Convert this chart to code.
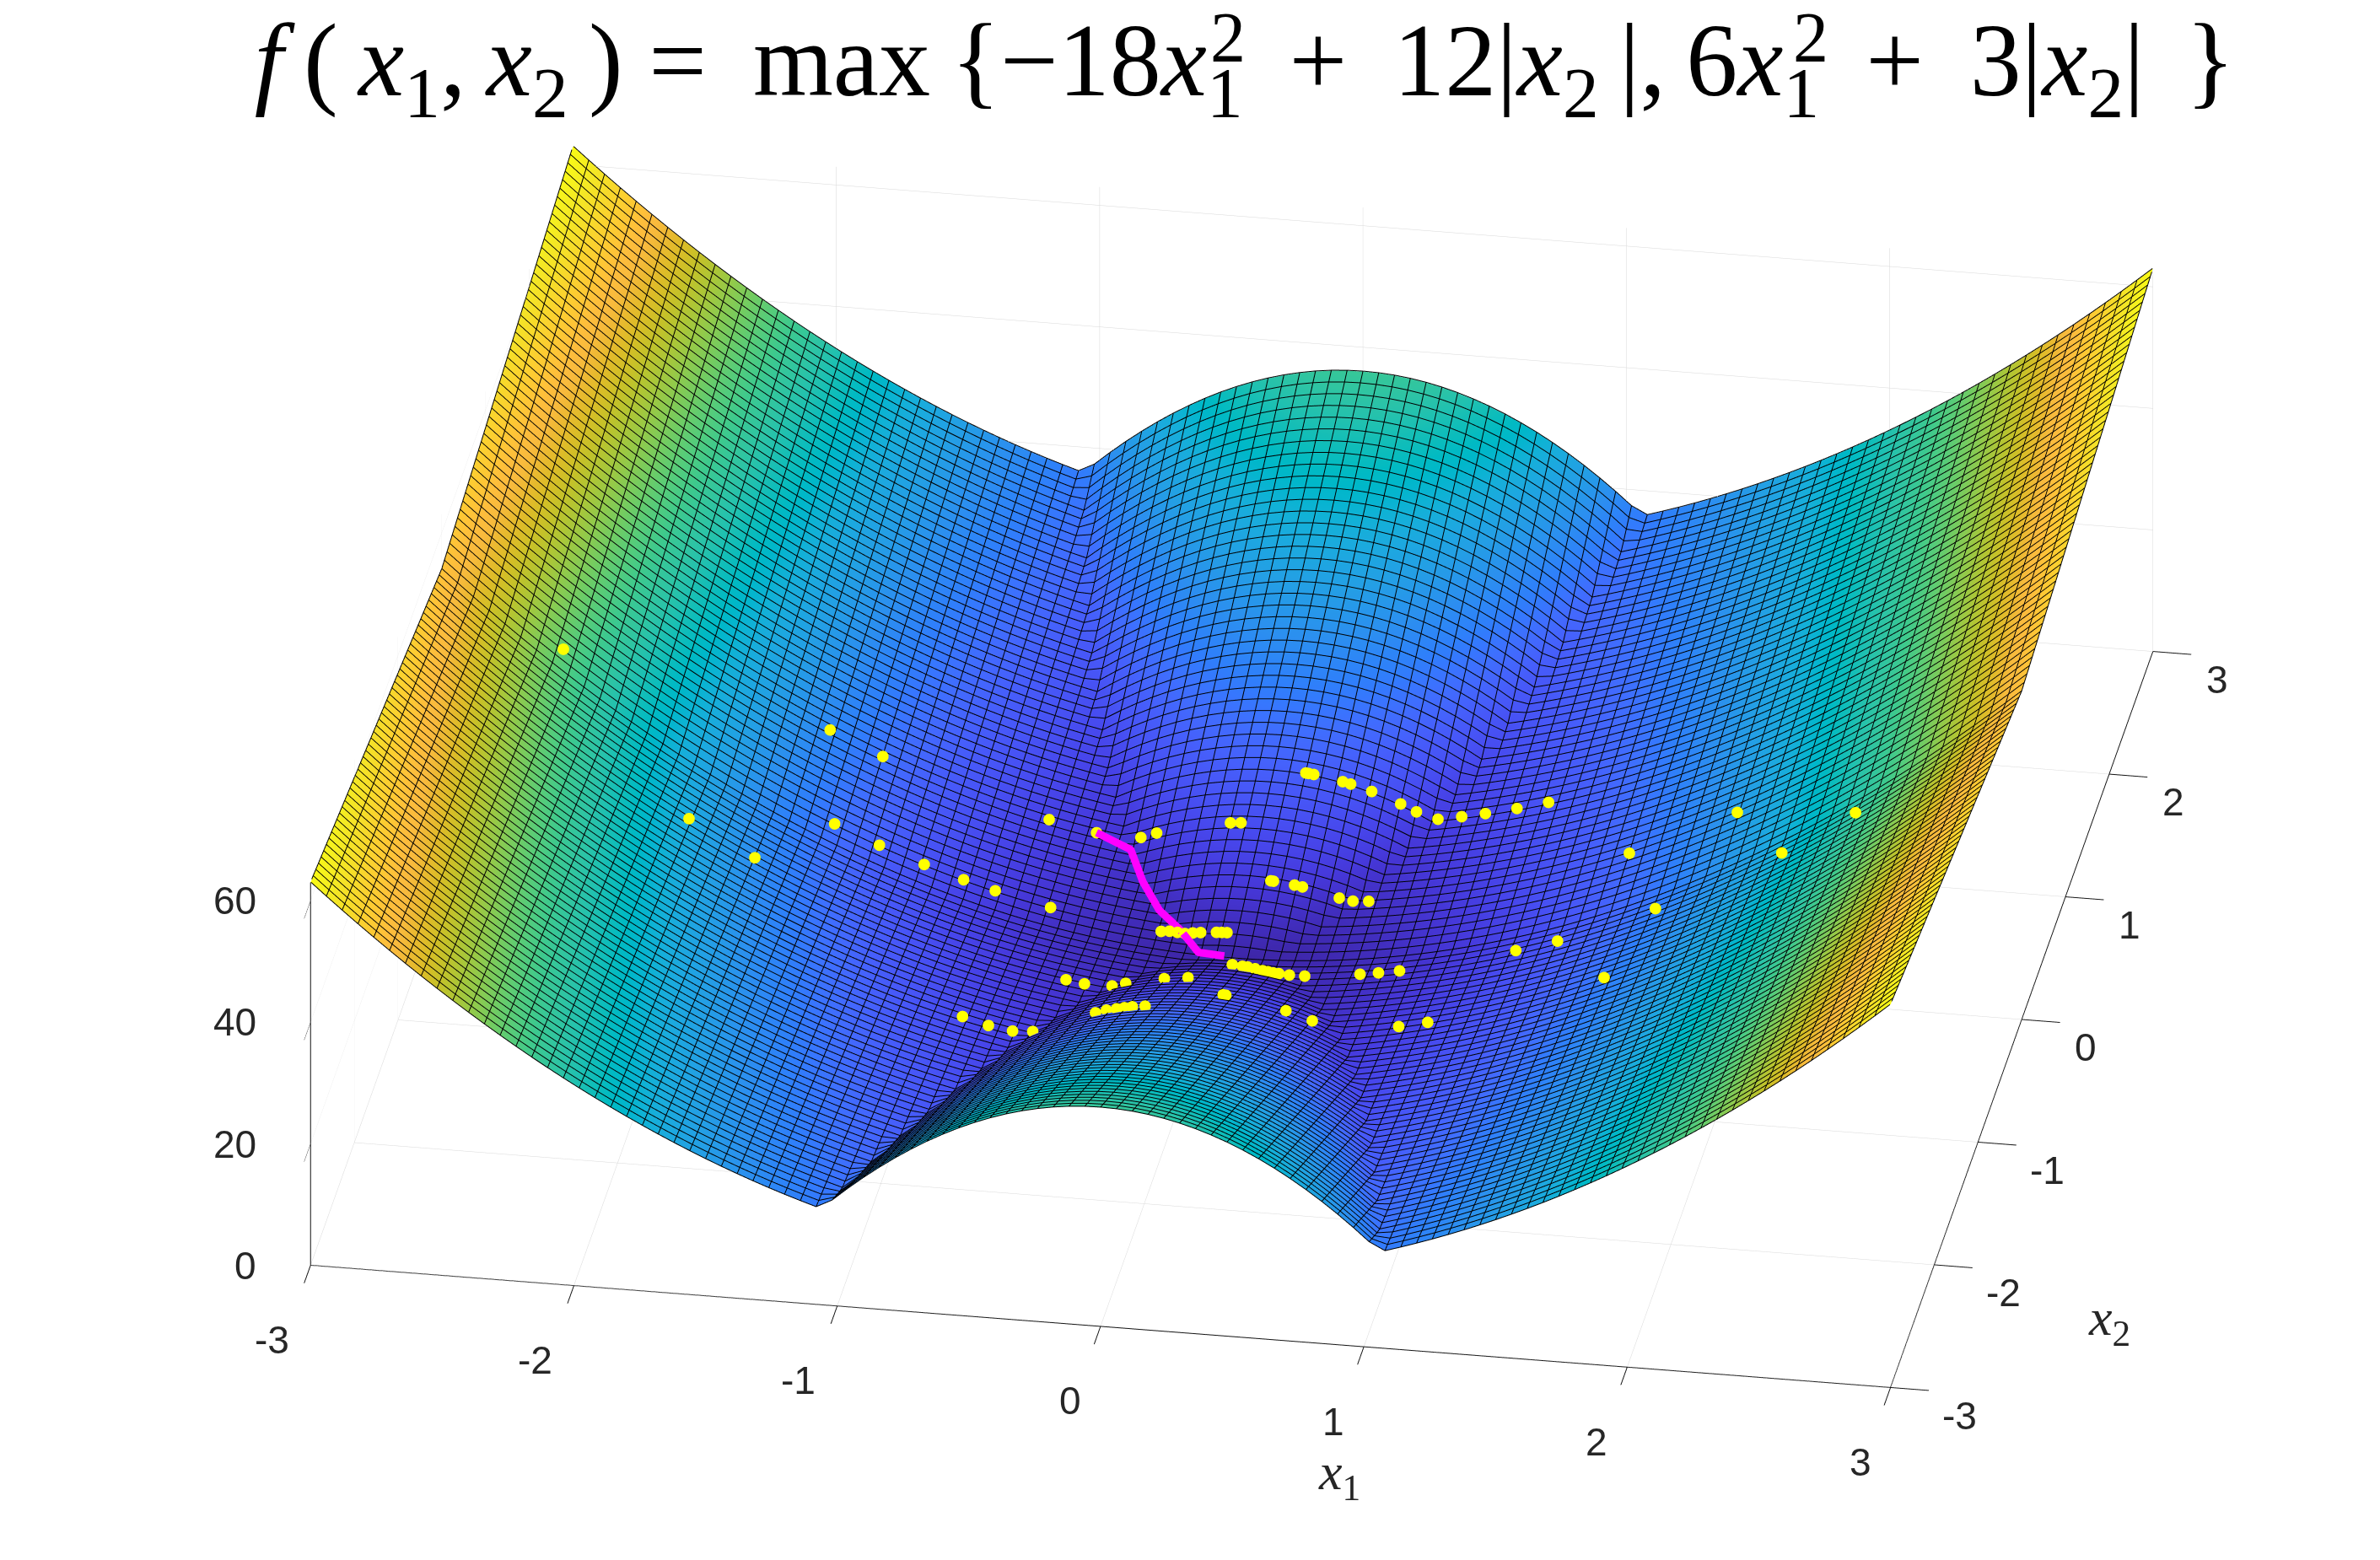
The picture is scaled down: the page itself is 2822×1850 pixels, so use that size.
import numpy as np, plotly.graph_objects as go
x1_grid=np.linspace(-3,3,101)
x2_grid=np.linspace(-3,3,101)
tick_x=[-3,-2,-1,0,1,2,3]
tick_z=[0,20,40,60]
marker_x1=[-2.56,-1.64,-1.44,-1.99,-1.53,-1.74,-1.36,-1.19,-1.04,-0.92,-0.71,-0.81,-0.63,-0.46,-0.40,-0.29,-0.26,-0.23,-0.56,-0.49,-0.39,-0.34,-0.19,-0.36,-0.32,-0.28,-0.25,-0.22,-0.17,-0.86,-0.76,-0.67,-0.60,0.12,0.13,0.15,0.26,0.29,0.37,0.48,0.54,0.62,0.71,0.80,0.92,1.04,1.85,2.39,1.44,2.11,-0.12,-0.08,0.08,0.09,0.17,0.20,0.34,0.39,0.45,1.63,1.26,1.10,1.53,-0.20,-0.17,-0.14,-0.08,-0.06,-0.04,0.02,0.06,0.08,0.11,0.14,0.16,0.18,0.20,0.24,0.30,0.51,0.58,0.66,-0.10,0.08,0.09,0.32,0.42,0.75,0.86]
marker_x2=[0.13,0.69,0.69,-0.43,0.13,-0.43,0.13,0.13,0.13,0.13,0.13,0.70,0.70,0.69,0.69,0.13,0.14,0.14,-0.42,-0.42,-0.39,-0.38,-0.40,-0.95,-0.94,-0.95,-0.95,-0.95,-0.96,-0.98,-0.99,-0.98,-0.94,0.97,0.97,0.97,0.97,0.97,0.97,0.97,0.97,0.98,0.98,0.98,0.98,0.98,0.42,-0.13,0.42,-0.13,0.69,0.69,0.41,0.41,0.41,0.41,0.41,0.42,0.42,-0.13,-0.14,-0.13,-0.70,0.13,0.13,0.13,0.13,0.13,0.13,-0.11,-0.12,-0.12,-0.13,-0.14,-0.14,-0.14,-0.13,-0.13,-0.14,-0.14,-0.14,-0.14,-0.40,-0.68,-0.68,-0.69,-0.69,-0.70,-0.70]
path_x1=[-0.63,-0.49,-0.41,-0.32,-0.22,-0.13,-0.03]
path_x2=[0.70,0.64,0.44,0.27,0.15,0.02,0.01]
parula=[[0.2422,0.1504,0.6603],[0.2504,0.1650,0.7076],[0.2578,0.1818,0.7511],[0.2647,0.1978,0.7952],[0.2706,0.2147,0.8364],[0.2751,0.2342,0.8710],[0.2783,0.2559,0.8991],[0.2803,0.2782,0.9221],[0.2813,0.3006,0.9414],[0.2810,0.3228,0.9579],[0.2795,0.3447,0.9717],[0.2760,0.3667,0.9829],[0.2699,0.3892,0.9906],[0.2602,0.4123,0.9952],[0.2440,0.4358,0.9988],[0.2206,0.4603,0.9973],[0.1963,0.4847,0.9892],[0.1834,0.5074,0.9798],[0.1786,0.5289,0.9682],[0.1764,0.5499,0.9520],[0.1687,0.5703,0.9359],[0.1540,0.5902,0.9218],[0.1460,0.6091,0.9079],[0.1380,0.6276,0.8973],[0.1248,0.6459,0.8883],[0.1113,0.6635,0.8763],[0.0952,0.6798,0.8598],[0.0689,0.6948,0.8394],[0.0297,0.7082,0.8163],[0.0036,0.7203,0.7917],[0.0067,0.7312,0.7660],[0.0433,0.7411,0.7394],[0.0964,0.7500,0.7120],[0.1408,0.7584,0.6842],[0.1717,0.7670,0.6554],[0.1938,0.7758,0.6251],[0.2161,0.7843,0.5923],[0.2470,0.7918,0.5567],[0.2906,0.7973,0.5188],[0.3406,0.8008,0.4789],[0.3909,0.8029,0.4354],[0.4456,0.8024,0.3909],[0.5044,0.7993,0.3480],[0.5616,0.7942,0.3045],[0.6174,0.7876,0.2612],[0.6720,0.7793,0.2227],[0.7242,0.7698,0.1910],[0.7738,0.7598,0.1646],[0.8203,0.7498,0.1535],[0.8634,0.7406,0.1596],[0.9035,0.7330,0.1774],[0.9393,0.7288,0.2100],[0.9728,0.7298,0.2394],[0.9956,0.7434,0.2371],[0.9970,0.7659,0.2199],[0.9952,0.7893,0.2028],[0.9892,0.8136,0.1885],[0.9786,0.8386,0.1766],[0.9676,0.8639,0.1643],[0.9610,0.8890,0.1537],[0.9597,0.9135,0.1423],[0.9628,0.9373,0.1265],[0.9691,0.9606,0.1064],[0.9769,0.9839,0.0805]]
cs=[[i/63,f"rgb({int(r*255)},{int(g*255)},{int(b*255)})"] for i,(r,g,b) in enumerate(parula)]
def f(a,b):  # the function printed in the chart's title
    a,b=np.asarray(a),np.asarray(b)
    return np.maximum(-18*a**2+12*np.abs(b),6*a**2+3*np.abs(b))
X1,X2=np.meshgrid(x1_grid,x2_grid)
Z=f(X1,X2)
NUDGE=(0.0137,-0.083,1.7)
fig=go.Figure()
fig.add_trace(go.Surface(x=x1_grid,y=x2_grid,z=Z,cmin=0,cmax=63,colorscale=cs,showscale=False,
  lighting=dict(ambient=1,diffuse=0,specular=0,fresnel=0,roughness=1)))
def breaks(A):
    return np.concatenate([np.append(row,np.nan) for row in A])
mx=np.concatenate([breaks(X1),breaks(X1.T)])
my=np.concatenate([breaks(X2),breaks(X2.T)])
mz=np.concatenate([breaks(Z),breaks(Z.T)])+0.08
fig.add_trace(go.Scatter3d(x=mx,y=my,z=mz,mode='lines',line=dict(color='#000000',width=2),showlegend=False,hoverinfo='skip'))
fig.add_trace(go.Scatter3d(x=np.array(path_x1)+NUDGE[0],y=np.array(path_x2)+NUDGE[1],z=f(path_x1,path_x2)+NUDGE[2],mode='lines',line=dict(color='#ff00ff',width=18),showlegend=False))
fig.add_trace(go.Scatter3d(x=np.array(marker_x1)+NUDGE[0],y=np.array(marker_x2)+NUDGE[1],z=f(marker_x1,marker_x2)+NUDGE[2],mode='markers',marker=dict(color='#ffff00',size=8,line=dict(width=0)),showlegend=False))
ax=dict(showbackground=False,showgrid=True,gridcolor='#d8d8d8',gridwidth=1,showline=True,linecolor='#111111',linewidth=2,
  ticks='outside',ticklen=46,tickcolor='#111111',tickwidth=2,showticklabels=False,title=dict(text=''),zeroline=False,showspikes=False)
tf=dict(family='Liberation Sans',size=46,color='#262626')
sa=[]
for v in tick_x:
    sa.append(dict(x=v,y=-3,z=0,text=str(v),showarrow=False,xshift=-46 if v<0 else -36,yshift=-88,font=tf))
    sa.append(dict(x=3,y=v,z=0,text=str(v),showarrow=False,xshift=82 if v<0 else 76,yshift=-33,font=tf))
for v in tick_z:
    sa.append(dict(x=-3,y=-3,z=v,text=str(v),showarrow=False,xanchor='right',xshift=-62,font=tf))
T='\u2009'
title=(f"<i>f</i>{T}({T}<i>x</i><sub>1</sub>,{T}<i>x</i><sub>2</sub>{T}) = {T}max{T}{{−18<i>x</i><sub>1</sub>{T} + {T}12|<i>x</i><sub>2</sub>{T}|,{T}6<i>x</i><sub>1</sub>{T} + {T}3|<i>x</i><sub>2</sub>|{T}{T}}}")
sf=dict(family='Liberation Serif',size=84,color='black')
S=2.088
lab=dict(family='Liberation Serif',size=62,color='#262626')
fig.update_layout(width=2822,height=1850,margin=dict(l=0,r=0,t=0,b=0),paper_bgcolor='white',showlegend=False,
 title=dict(text=title,x=2650/2822,xanchor='right',y=0.962,yanchor='middle',font=dict(family='Liberation Serif',size=122,color='black')),
 annotations=[dict(text='2',x=1456/2822,y=1-45/1850,xref='paper',yref='paper',xanchor='center',yanchor='middle',showarrow=False,font=sf),
              dict(text='2',x=2147/2822,y=1-45/1850,xref='paper',yref='paper',xanchor='center',yanchor='middle',showarrow=False,font=sf),
              dict(text='<i>x</i><sub>1</sub>',x=1588/2822,y=1-1790/1850,xref='paper',yref='paper',showarrow=False,font=lab),
              dict(text='<i>x</i><sub>2</sub>',x=2528/2822,y=1-1607/1850,xref='paper',yref='paper',showarrow=False,font=lab)],
 scene=dict(domain=dict(x=[0.035,1],y=[0.0165,1]),aspectmode='manual',aspectratio=dict(x=S,y=S,z=0.2702*S),annotations=sa,
  xaxis=dict(ax,range=[-3,3],tickvals=tick_x),
  yaxis=dict(ax,range=[-3,3],tickvals=tick_x),
  zaxis=dict(ax,range=[0,63],tickvals=tick_z),
  camera=dict(projection=dict(type='orthographic'),up=dict(x=0,y=0,z=1),eye=dict(x=0.435,y=-2.619,z=1.398),center=dict(x=0,y=0,z=0))))
fig.write_html("out.html",post_script="document.body.style.margin='0';",config=dict(displayModeBar=False))
